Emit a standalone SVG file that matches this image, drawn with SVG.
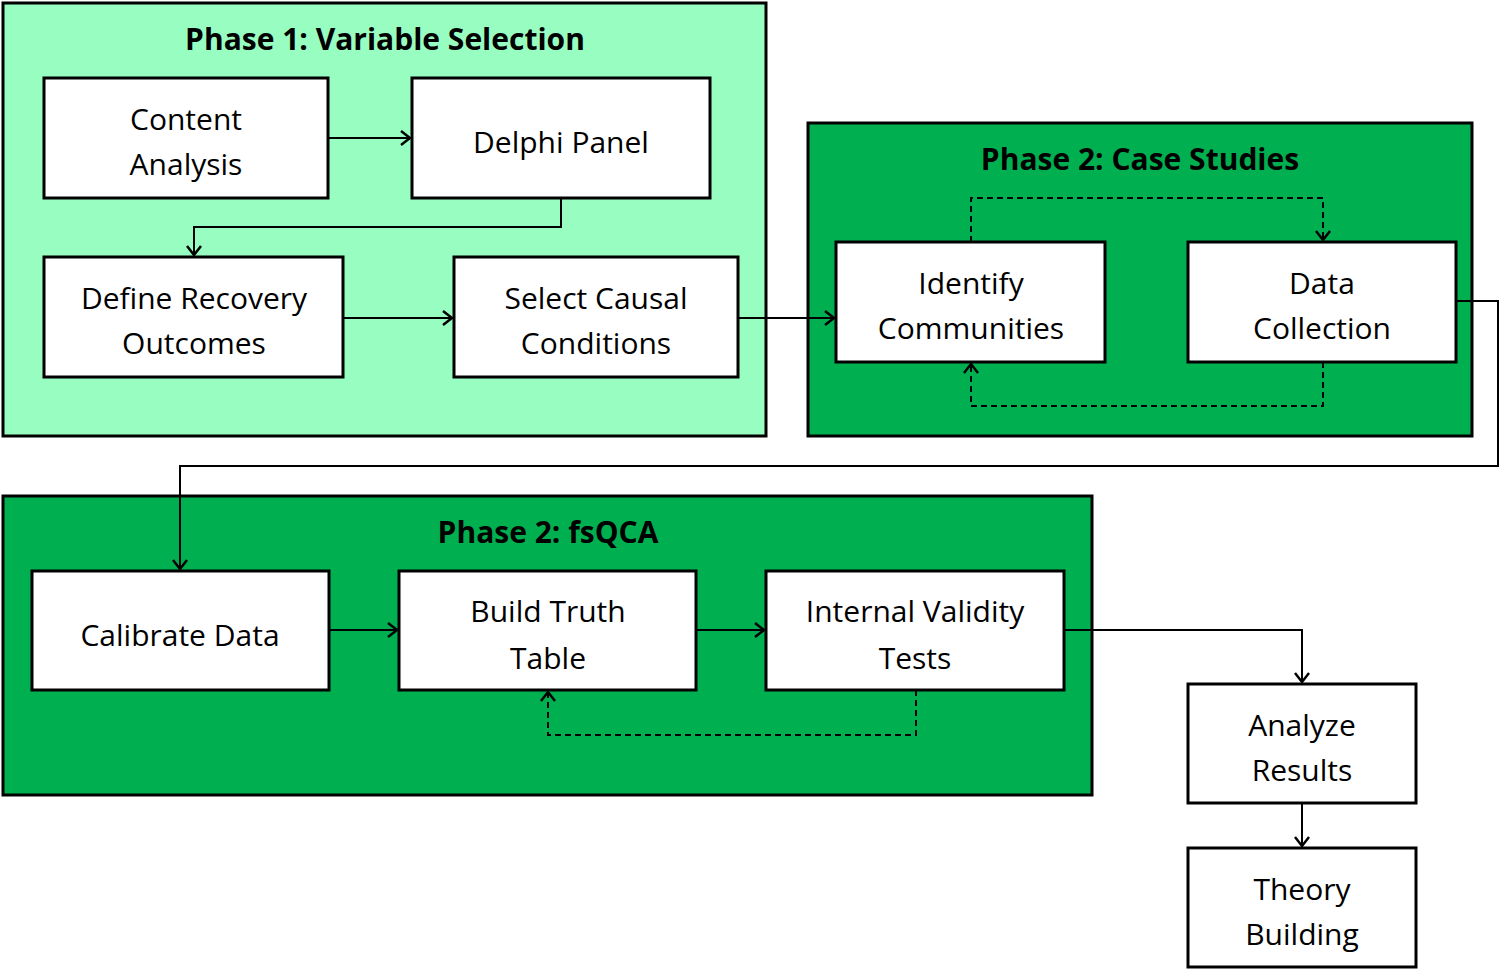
<svg xmlns="http://www.w3.org/2000/svg" width="1500" height="971" viewBox="0 0 1500 971">
<style>
.ph{stroke:#000;stroke-width:3}
.n{fill:#fff;stroke:#000;stroke-width:3}
.t{font-family:"Open Sans","Liberation Sans",sans-serif;font-size:30px;text-anchor:middle;fill:#000}
.h{font-family:"Open Sans","Liberation Sans",sans-serif;font-size:30px;font-weight:bold;text-anchor:middle;fill:#000}
.c{fill:none;stroke:#000;stroke-width:2;marker-end:url(#a)}
.d{stroke-dasharray:6,4}
</style>
<defs><marker id="a" markerWidth="20" markerHeight="20" refX="11" refY="8" orient="auto" markerUnits="userSpaceOnUse"><path d="M2,1 L11,8 L2,15" fill="none" stroke="#000" stroke-width="2.5"/></marker></defs>
<g id="phase1"><rect class="ph" x="3" y="3" width="763" height="433" fill="#97FDC0"/><text class="h" x="385" y="50">Phase 1: Variable Selection</text></g>
<g id="phase2cs"><rect class="ph" x="808" y="123" width="664" height="313" fill="#00B050"/><text class="h" x="1140" y="170">Phase 2: Case Studies</text></g>
<g id="phase2fs"><rect class="ph" x="3" y="496" width="1089" height="299" fill="#00B050"/><text class="h" x="548" y="543">Phase 2: fsQCA</text></g>
<g id="contentAnalysis"><rect class="n" x="44" y="78" width="284" height="120"/><text class="t" x="186" y="130">Content</text><text class="t" x="186" y="175">Analysis</text></g>
<g id="delphi"><rect class="n" x="412" y="78" width="298" height="120"/><text class="t" x="561" y="153">Delphi Panel</text></g>
<g id="defineRecovery"><rect class="n" x="44" y="257" width="299" height="120"/><text class="t" x="194" y="309">Define Recovery</text><text class="t" x="194" y="354">Outcomes</text></g>
<g id="selectCausal"><rect class="n" x="454" y="257" width="284" height="120"/><text class="t" x="596" y="309">Select Causal</text><text class="t" x="596" y="354">Conditions</text></g>
<g id="identify"><rect class="n" x="836" y="242" width="269" height="120"/><text class="t" x="971" y="294">Identify</text><text class="t" x="971" y="339">Communities</text></g>
<g id="dataCollection"><rect class="n" x="1188" y="242" width="268" height="120"/><text class="t" x="1322" y="294">Data</text><text class="t" x="1322" y="339">Collection</text></g>
<g id="calibrate"><rect class="n" x="32" y="571" width="297" height="119"/><text class="t" x="180" y="646">Calibrate Data</text></g>
<g id="truthTable"><rect class="n" x="399" y="571" width="297" height="119"/><text class="t" x="548" y="622">Build Truth</text><text class="t" x="548" y="669">Table</text></g>
<g id="validity"><rect class="n" x="766" y="571" width="298" height="119"/><text class="t" x="915" y="622">Internal Validity</text><text class="t" x="915" y="669">Tests</text></g>
<g id="analyze"><rect class="n" x="1188" y="684" width="228" height="119"/><text class="t" x="1302" y="736">Analyze</text><text class="t" x="1302" y="781">Results</text></g>
<g id="theory"><rect class="n" x="1188" y="848" width="228" height="119"/><text class="t" x="1302" y="900">Theory</text><text class="t" x="1302" y="945">Building</text></g>
<g id="connectors">
<path class="c" d="M328,138 H410"/>
<path class="c" d="M561,198 V227 H194 V255"/>
<path class="c" d="M343,318 H452"/>
<path class="c" d="M738,318 H834"/>
<path class="c d" d="M971,242 V198 H1323 V240"/>
<path class="c d" d="M1323,362 V406 H971 V364"/>
<path class="c" d="M1456,301 H1498 V466 H180 V569"/>
<path class="c" d="M329,630 H397"/>
<path class="c" d="M696,630 H764"/>
<path class="c d" d="M916,690 V735 H548 V692"/>
<path class="c" d="M1064,630 H1302 V682"/>
<path class="c" d="M1302,803 V846"/>
</g>
</svg>
